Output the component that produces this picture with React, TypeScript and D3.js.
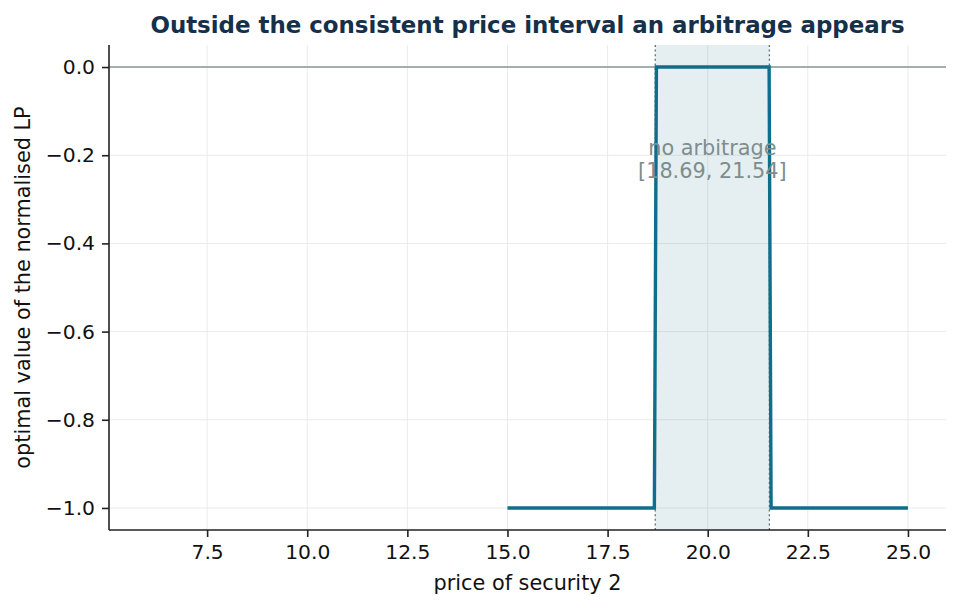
import { useEffect, useRef } from 'react'
import * as d3 from 'd3'

// optimal value of the normalised LP vs price of security 2 (step function)
const prices = [15.0, 18.668, 18.719, 21.533, 21.583, 25.0]
const lpValues = [-1, -1, 0, 0, -1, -1]
const bounds = [18.69, 21.54]
const xTicks = [7.5, 10.0, 12.5, 15.0, 17.5, 20.0, 22.5, 25.0]
const yTicks = [0.0, -0.2, -0.4, -0.6, -0.8, -1.0]

const W = 960, H = 608
const M = { left: 109, right: 946, top: 45, bottom: 530 }
const FONT = 'DejaVu Sans, sans-serif'
const LINE = '#0f6e8c'

export default function App() {
  const ref = useRef<SVGSVGElement>(null)

  useEffect(() => {
    const svg = d3.select(ref.current!)
    svg.selectAll('*').remove()

    const x = d3.scaleLinear().domain([5.05, 25.95]).range([M.left, M.right])
    const y = d3.scaleLinear().domain([-1.05, 0.05]).range([M.bottom, M.top])

    // grid
    const grid = svg.append('g')
    xTicks.forEach(t => {
      grid.append('line').attr('x1', x(t)).attr('x2', x(t)).attr('y1', M.top).attr('y2', M.bottom)
        .attr('stroke', '#ebebeb').attr('stroke-width', 1)
    })
    yTicks.forEach(t => {
      grid.append('line').attr('x1', M.left).attr('x2', M.right).attr('y1', y(t)).attr('y2', y(t))
        .attr('stroke', '#ebebeb').attr('stroke-width', 1)
    })

    // no-arbitrage band
    svg.append('rect').attr('x', x(bounds[0])).attr('y', M.top)
      .attr('width', x(bounds[1]) - x(bounds[0])).attr('height', M.bottom - M.top)
      .attr('fill', LINE).attr('fill-opacity', 0.11)

    // zero line
    svg.append('line').attr('x1', M.left).attr('x2', M.right).attr('y1', y(0)).attr('y2', y(0))
      .attr('stroke', '#869898').attr('stroke-width', 1.5)

    // band edges
    bounds.forEach(b => {
      svg.append('line').attr('x1', x(b)).attr('x2', x(b)).attr('y1', M.top).attr('y2', M.bottom)
        .attr('stroke', '#5f7070').attr('stroke-width', 1.3).attr('stroke-dasharray', '2,2.6')
    })

    // data line
    const line = d3.line<number>().x((_, i) => x(prices[i])).y(v => y(v))
    svg.append('path').datum(lpValues).attr('fill', 'none')
      .attr('stroke', LINE).attr('stroke-width', 3.4).attr('d', line as any)

    // annotation
    const cx = x((bounds[0] + bounds[1]) / 2)
    const ann = svg.append('text').attr('text-anchor', 'middle').attr('fill', '#7f8c8d')
      .attr('font-family', FONT).attr('font-size', 20.8)
    ann.append('tspan').attr('x', cx).attr('y', y(-0.2) - 0.5).text('no arbitrage')
    ann.append('tspan').attr('x', cx).attr('y', y(-0.2) + 23)
      .text(`[${bounds[0].toFixed(2)}, ${bounds[1].toFixed(2)}]`)

    // axes
    const fmt = (v: number) => v.toFixed(1).replace('-', '\u2212')
    const xa = svg.append('g').attr('transform', `translate(0,${M.bottom})`)
      .call(d3.axisBottom(x).tickValues(xTicks).tickFormat(d => fmt(+d)).tickSize(7).tickPadding(8))
    const ya = svg.append('g').attr('transform', `translate(${M.left},0)`)
      .call(d3.axisLeft(y).tickValues(yTicks).tickFormat(d => fmt(+d)).tickSize(7).tickPadding(7))
    ;[xa, ya].forEach(a => {
      a.select('.domain').attr('stroke', '#222').attr('stroke-width', 1.6)
      a.selectAll('.tick line').attr('stroke', '#222').attr('stroke-width', 1.6)
      a.selectAll('.tick text').attr('fill', '#111').attr('font-family', FONT).attr('font-size', 20.3)
    })
    // d3 draws outer ticks on the domain path; strip them
    xa.select('.domain').attr('d', `M${M.left},0H${M.right}`)
    ya.select('.domain').attr('d', `M0,${M.top}V${M.bottom}`)

    // labels
    svg.append('text').attr('x', (M.left + M.right) / 2).attr('y', 590)
      .attr('text-anchor', 'middle').attr('font-family', FONT).attr('font-size', 20.8).attr('fill', '#111')
      .text('price of security 2')
    svg.append('text').attr('transform', `translate(30,${(M.top + M.bottom) / 2}) rotate(-90)`)
      .attr('text-anchor', 'middle').attr('font-family', FONT).attr('font-size', 20.8).attr('fill', '#111')
      .text('optimal value of the normalised LP')
    svg.append('text').attr('x', (M.left + M.right) / 2).attr('y', 33)
      .attr('text-anchor', 'middle').attr('font-family', FONT).attr('font-size', 22.9).attr('font-weight', 'bold')
      .attr('fill', '#15304a')
      .text('Outside the consistent price interval an arbitrage appears')
  }, [])

  return <svg ref={ref} width={W} height={H} style={{ position: 'absolute', left: 0, top: 0, background: '#fff' }} />
}
